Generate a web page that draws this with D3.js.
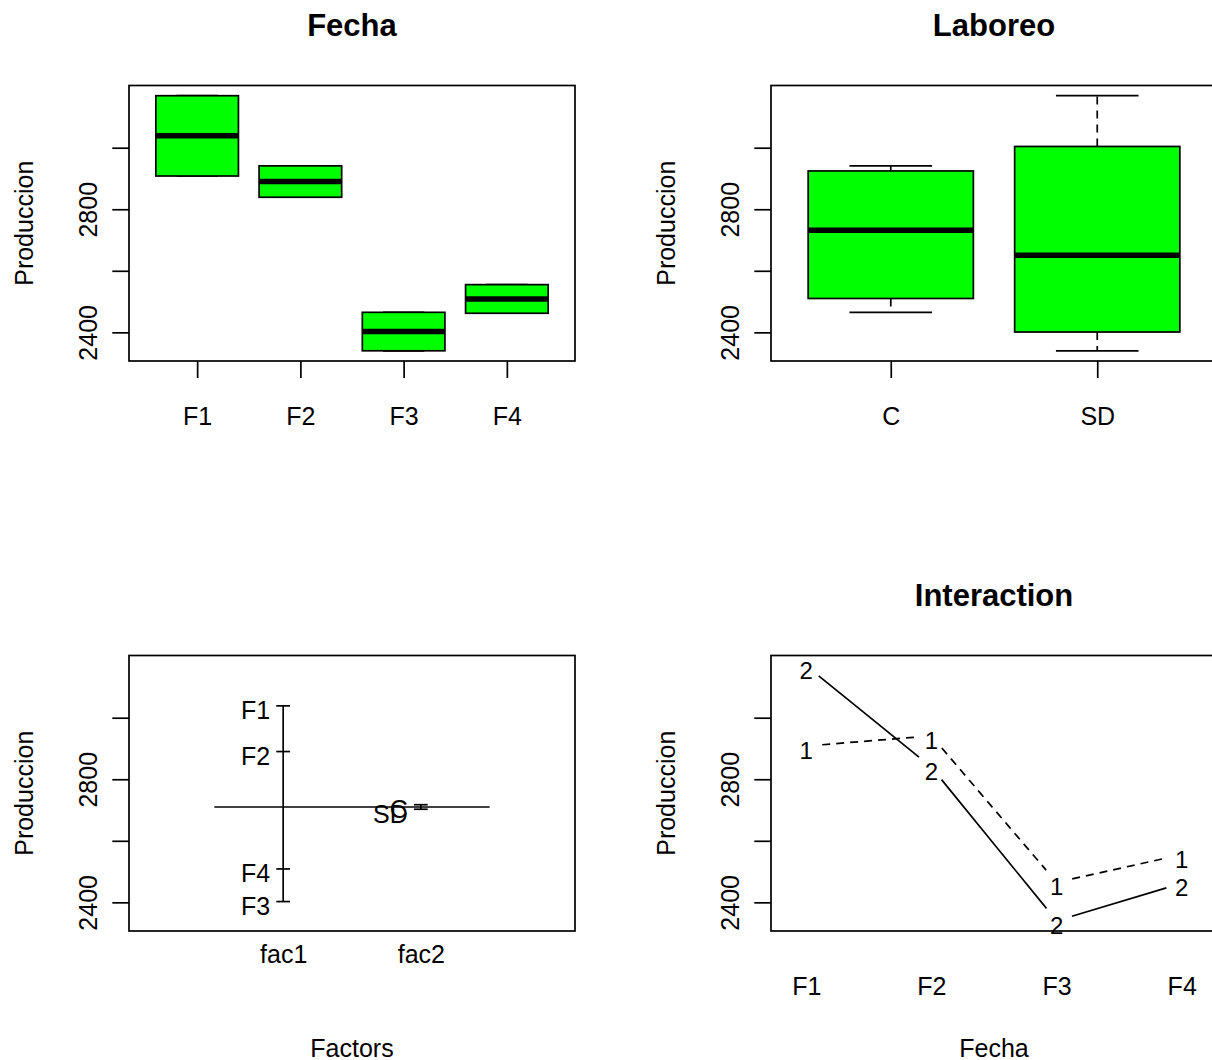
<!DOCTYPE html>
<html>
<head>
<meta charset="utf-8">
<script src="https://cdn.jsdelivr.net/npm/d3@7"></script>
<style>
body { margin: 0; background: #fff; }
text { font-family: "Liberation Sans", Arial, sans-serif; fill: #000; }
</style>
</head>
<body>
<script>
var width = 1212;
var height = 1060;

// data (one value per Fecha x Laboreo cell)
var fecha = ["F1", "F2", "F3", "F4"];
var laboreo = ["C", "SD"];
var prodC = [2908, 2941, 2465, 2555];
var prodSD = [3169, 2839, 2340, 2462];
var yTicks = [2400, 2600, 2800, 3000];
var yTickLabels = ["2400", "", "2800", ""];
var factorNames = ["fac1", "fac2"];
var traceLabels = ["1", "2"];

var svg = d3.select("body").append("svg")
            .attr("width", width)
            .attr("height", height);

var plotW = 446, plotH = 275.5;
var colX = [129, 771], rowY = [85.5, 655.5];
var lw = 1.7;
var fontSize = 25;

var allValues = prodC.concat(prodSD);
var ext = d3.extent(allValues);

// R style axis range: extend 4% on each side
function rExt(a, b) {
    var p = 0.04 * (b - a);
    return [a - p, b + p];
}

// Tukey five number summary, as R fivenum()
function fivenum(v) {
    var s = v.slice().sort(d3.ascending);
    var n = s.length;
    var n4 = Math.floor((n + 3) / 2) / 2;
    var d = [1, n4, (n + 1) / 2, n + 1 - n4, n];
    return d.map(function(k) {
        return 0.5 * (s[Math.floor(k) - 1] + s[Math.ceil(k) - 1]);
    });
}

function panel(col, row, xDomain, title, xlab) {
    var left = colX[col], top = rowY[row], bottom = top + plotH;
    var g = svg.append("g");
    var x = d3.scaleLinear().domain(xDomain).range([left, left + plotW]);
    var y = d3.scaleLinear().domain(rExt(ext[0], ext[1])).range([bottom, top]);

    var yAxis = g.append("g")
        .attr("transform", "translate(" + left + ",0)")
        .call(d3.axisLeft(y).tickValues(yTicks).tickSize(16.7)
              .tickFormat(function(d, i) { return yTickLabels[i]; }));
    yAxis.select(".domain").remove();
    yAxis.selectAll("line").attr("stroke", "#000").attr("stroke-width", lw);
    yAxis.attr("font-size", fontSize).attr("font-family", null);
    yAxis.selectAll("text")
        .attr("x", 0).attr("dy", 0).attr("y", -32.3)
        .attr("text-anchor", "middle")
        .attr("transform", "rotate(-90)");

    g.append("text")
        .attr("transform", "translate(" + (left - 96.5) + "," + (top + plotH / 2) + ") rotate(-90)")
        .attr("text-anchor", "middle")
        .attr("font-size", fontSize)
        .text("Produccion");

    if (title) {
        g.append("text")
            .attr("x", left + plotW / 2).attr("y", top - 49.5)
            .attr("text-anchor", "middle")
            .attr("font-size", 31).attr("font-weight", "bold")
            .text(title);
    }
    if (xlab) {
        g.append("text")
            .attr("x", left + plotW / 2).attr("y", bottom + 126)
            .attr("text-anchor", "middle")
            .attr("font-size", fontSize)
            .text(xlab);
    }
    return {g: g, x: x, y: y, left: left, top: top, bottom: bottom};
}

function frame(p) {
    p.g.append("rect")
        .attr("x", p.left).attr("y", p.top)
        .attr("width", plotW).attr("height", plotH)
        .attr("fill", "none").attr("stroke", "#000").attr("stroke-width", lw);
}

function xLabels(p, labels, tick, offset) {
    var ax = p.g.append("g")
        .attr("transform", "translate(0," + p.bottom + ")")
        .call(d3.axisBottom(p.x).tickValues(d3.range(1, labels.length + 1))
              .tickSize(tick).tickFormat(function(d, i) { return labels[i]; }));
    ax.select(".domain").remove();
    ax.selectAll("line").attr("stroke", "#000").attr("stroke-width", lw);
    ax.attr("font-size", fontSize).attr("font-family", null);
    ax.selectAll("text").attr("y", offset).attr("dy", 0);
}

function boxplot(p, groups, labels) {
    var stats = groups.map(fivenum);
    var b = p.g.selectAll(".box").data(stats).enter().append("g").attr("class", "box");
    var cx = function(d, i) { return p.x(i + 1); };
    b.append("line").attr("x1", cx).attr("x2", cx)
        .attr("y1", function(d) { return p.y(d[3]); })
        .attr("y2", function(d) { return p.y(d[4]); })
        .attr("stroke", "#000").attr("stroke-width", lw).attr("stroke-dasharray", "8,6");
    b.append("line").attr("x1", cx).attr("x2", cx)
        .attr("y1", function(d) { return p.y(d[1]); })
        .attr("y2", function(d) { return p.y(d[0]); })
        .attr("stroke", "#000").attr("stroke-width", lw).attr("stroke-dasharray", "8,6");
    [0, 4].forEach(function(k) {
        b.append("line")
            .attr("x1", function(d, i) { return p.x(i + 0.8); })
            .attr("x2", function(d, i) { return p.x(i + 1.2); })
            .attr("y1", function(d) { return p.y(d[k]); })
            .attr("y2", function(d) { return p.y(d[k]); })
            .attr("stroke", "#000").attr("stroke-width", lw);
    });
    b.append("rect")
        .attr("x", function(d, i) { return p.x(i + 0.6); })
        .attr("width", function(d, i) { return p.x(i + 1.4) - p.x(i + 0.6); })
        .attr("y", function(d) { return p.y(d[3]); })
        .attr("height", function(d) { return p.y(d[1]) - p.y(d[3]); })
        .attr("fill", "#00ff00").attr("stroke", "#000").attr("stroke-width", lw);
    b.append("line")
        .attr("x1", function(d, i) { return p.x(i + 0.6); })
        .attr("x2", function(d, i) { return p.x(i + 1.4); })
        .attr("y1", function(d) { return p.y(d[2]); })
        .attr("y2", function(d) { return p.y(d[2]); })
        .attr("stroke", "#000").attr("stroke-width", 5.5);
    frame(p);
    xLabels(p, labels, 17, 64);
}

// Fecha boxplot
var byFecha = fecha.map(function(f, i) { return [prodC[i], prodSD[i]]; });
var p1 = panel(0, 0, rExt(0.5, fecha.length + 0.5), "Fecha", "");
boxplot(p1, byFecha, fecha);

// Laboreo boxplot
var p2 = panel(1, 0, rExt(0.5, laboreo.length + 0.5), "Laboreo", "");
boxplot(p2, [prodC, prodSD], laboreo);

// design plot of factor means
var p3 = panel(0, 1, rExt(0, factorNames.length + 1), "", "Factors");
var grandMean = d3.mean(allValues);
var factorMeans = [
    byFecha.map(function(v, i) { return {label: fecha[i], value: d3.mean(v)}; }),
    [prodC, prodSD].map(function(v, i) { return {label: laboreo[i], value: d3.mean(v)}; })
];
p3.g.append("line")
    .attr("x1", p3.x(0.5)).attr("x2", p3.x(factorNames.length + 0.5))
    .attr("y1", p3.y(grandMean)).attr("y2", p3.y(grandMean))
    .attr("stroke", "#000").attr("stroke-width", lw);
factorMeans.forEach(function(means, j) {
    var fx = j + 1;
    var e = d3.extent(means, function(d) { return d.value; });
    p3.g.append("line")
        .attr("x1", p3.x(fx)).attr("x2", p3.x(fx))
        .attr("y1", p3.y(e[0])).attr("y2", p3.y(e[1]))
        .attr("stroke", "#000").attr("stroke-width", lw);
    var m = p3.g.selectAll(".m" + j).data(means).enter().append("g");
    m.append("line")
        .attr("x1", p3.x(fx - 0.05)).attr("x2", p3.x(fx + 0.05))
        .attr("y1", function(d) { return p3.y(d.value); })
        .attr("y2", function(d) { return p3.y(d.value); })
        .attr("stroke", "#000").attr("stroke-width", lw);
    m.append("text")
        .attr("x", p3.x(fx - 0.095))
        .attr("y", function(d) { return p3.y(d.value) + 13.5; })
        .attr("text-anchor", "end")
        .attr("font-size", fontSize)
        .text(function(d) { return d.label; });
});
frame(p3);
xLabels(p3, factorNames, 0, 32);

// interaction plot
var p4 = panel(1, 1, rExt(1 - 0.2 / fecha.length * 3, fecha.length + 0.2 / fecha.length * 3), "Interaction", "Fecha");
var traces = [prodC, prodSD];
var dashes = ["8,6", null];
var gap = 16;
traces.forEach(function(vals, t) {
    var pts = vals.map(function(v, i) { return [p4.x(i + 1), p4.y(v)]; });
    var segs = d3.pairs(pts);
    p4.g.selectAll(".seg" + t).data(segs).enter().append("line")
        .attr("x1", function(s) { return s[0][0] + gap * (s[1][0] - s[0][0]) / Math.hypot(s[1][0] - s[0][0], s[1][1] - s[0][1]); })
        .attr("y1", function(s) { return s[0][1] + gap * (s[1][1] - s[0][1]) / Math.hypot(s[1][0] - s[0][0], s[1][1] - s[0][1]); })
        .attr("x2", function(s) { return s[1][0] - gap * (s[1][0] - s[0][0]) / Math.hypot(s[1][0] - s[0][0], s[1][1] - s[0][1]); })
        .attr("y2", function(s) { return s[1][1] - gap * (s[1][1] - s[0][1]) / Math.hypot(s[1][0] - s[0][0], s[1][1] - s[0][1]); })
        .attr("stroke", "#000").attr("stroke-width", lw)
        .attr("stroke-dasharray", dashes[t]);
    p4.g.selectAll(".pt" + t).data(pts).enter().append("text")
        .attr("x", function(d) { return d[0]; })
        .attr("y", function(d) { return d[1] + 13; })
        .attr("text-anchor", "middle")
        .attr("font-size", 24)
        .text(traceLabels[t]);
});
frame(p4);
xLabels(p4, fecha, 0, 64);
</script>
</body>
</html>
